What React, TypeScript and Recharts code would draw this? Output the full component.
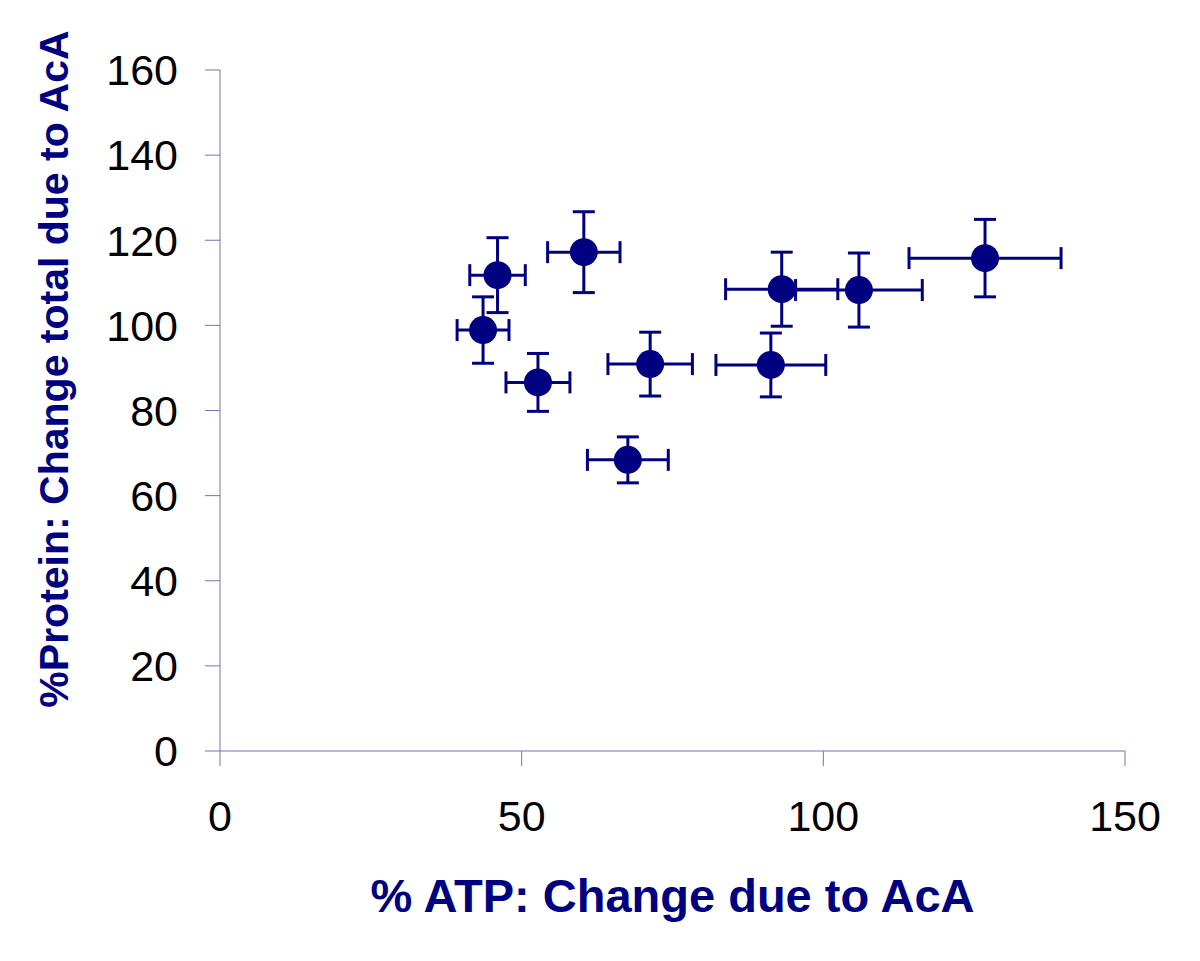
import React from 'react';
import { ScatterChart, Scatter, XAxis, YAxis, ErrorBar, Label } from 'recharts';

const atpChange = [43.6, 46.0, 52.7, 60.3, 67.6, 71.3, 91.3, 93.1, 105.9, 126.8];
const proteinChange = [98.9, 111.8, 86.6, 117.2, 68.4, 90.9, 90.7, 108.5, 108.3, 115.8];
const atpError = [4.3, 4.6, 5.3, 6.0, 6.7, 7.0, 9.1, 9.3, 10.5, 12.6];
const proteinError = [7.8, 8.8, 6.8, 9.5, 5.4, 7.5, 7.5, 8.7, 8.7, 9.1];
const xTicks = [0, 50, 100, 150];
const yTicks = [0, 20, 40, 60, 80, 100, 120, 140, 160];
const xTitle = '% ATP: Change due to AcA';
const yTitle = '%Protein: Change total due to AcA';

const data = atpChange.map((x, i) => ({
  x,
  y: proteinChange[i],
  ex: atpError[i],
  ey: proteinError[i],
}));

const NAVY = '#000080';
const AXIS = '#7474aa';
const FONT = '"Liberation Sans", Arial, sans-serif';

const Dot = (props: any) => {
  const { cx, cy } = props;
  return <circle cx={cx} cy={cy} r={14} fill={NAVY} />;
};

export default function App() {
  return (
    <ScatterChart
      width={1192}
      height={953}
      margin={{ top: 62, right: 75, bottom: 0, left: 0 }}
    >
      <XAxis
        type="number"
        dataKey="x"
        domain={[0, 150]}
        ticks={xTicks}
        tickSize={15}
        tickMargin={34}
        height={210}
        stroke={AXIS}
        tickLine={{ stroke: AXIS }}
        tick={{ fill: '#000', fontSize: 43, fontFamily: FONT }}
      >
        <Label
          content={(p: any) => {
            const vb = p.viewBox;
            return (
              <text
                x={vb.x + vb.width / 2}
                y={vb.y + 161}
                textAnchor="middle"
                fill={NAVY}
                fontSize={47}
                fontWeight="bold"
                fontFamily={FONT}
              >
                {xTitle}
              </text>
            );
          }}
        />
      </XAxis>
      <YAxis
        type="number"
        dataKey="y"
        domain={[0, 160]}
        ticks={yTicks}
        tickSize={15}
        tickMargin={27}
        width={212}
        stroke={AXIS}
        tickLine={{ stroke: AXIS }}
        tick={{ fill: '#000', fontSize: 43, fontFamily: FONT }}
      >
        <Label
          content={() => (
            <text
              x={0}
              y={0}
              transform="translate(60, 361) rotate(-90)"
              textAnchor="middle"
              fill={NAVY}
              fontSize={41}
              fontWeight="bold"
              fontFamily={FONT}
            >
              {yTitle}
            </text>
          )}
        />
      </YAxis>
      <Scatter data={data} shape={Dot} isAnimationActive={false}>
        <ErrorBar dataKey="ex" direction="x" width={11} strokeWidth={3} stroke={NAVY} isAnimationActive={false} />
        <ErrorBar dataKey="ey" direction="y" width={11} strokeWidth={3} stroke={NAVY} isAnimationActive={false} />
      </Scatter>
    </ScatterChart>
  );
}
